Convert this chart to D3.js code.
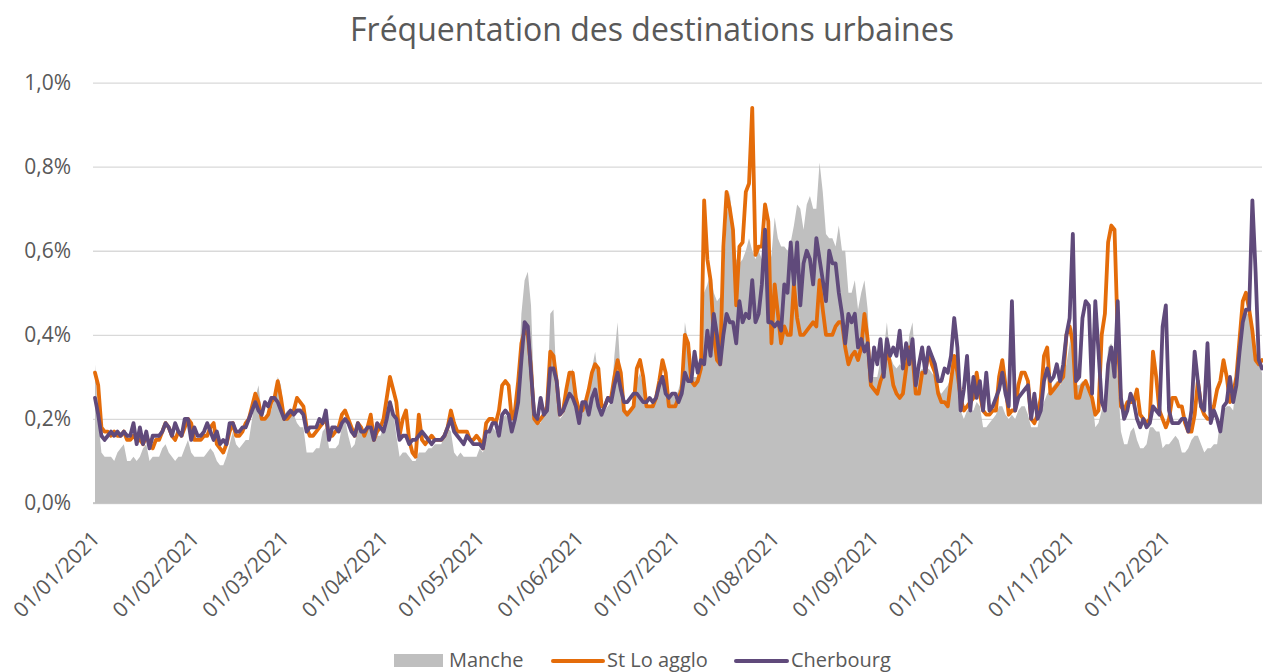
<!DOCTYPE html>
<html><head><meta charset="utf-8">
<script src="https://cdn.jsdelivr.net/npm/d3@7"></script>
<style>body{margin:0;background:#fff}svg{display:block}</style>
</head><body><svg id="c" width="1263" height="672"></svg>
<script>
const chartTitle = "Fréquentation des destinations urbaines";
const seriesNames = ["Manche", "St Lo agglo", "Cherbourg"];
const yTicks = [0, 0.2, 0.4, 0.6, 0.8, 1.0];
const monthLabels = ["01/01/2021","01/02/2021","01/03/2021","01/04/2021","01/05/2021","01/06/2021","01/07/2021","01/08/2021","01/09/2021","01/10/2021","01/11/2021","01/12/2021"];
// daily values, in hundredths of a percent
const manche = [33,20,12,11,11,11,10,12,13,14,
10,10,11,10,11,13,14,10,11,11,
11,13,14,12,11,10,11,11,13,15,
12,11,11,11,11,12,13,12,10,9,
9,11,14,17,14,13,14,15,15,20,
25,28,21,20,21,22,25,30,28,21,
22,22,21,19,18,18,12,12,12,13,
13,17,18,13,13,13,14,18,20,16,
13,14,18,17,16,18,17,16,16,16,
18,22,24,22,16,11,12,12,11,10,
10,12,12,12,13,13,14,14,14,16,
18,17,12,11,12,11,11,11,11,11,
13,12,15,17,18,17,18,20,21,20,
18,21,27,45,53,55,47,25,19,19,
21,23,45,46,27,20,21,24,30,32,
25,20,21,23,26,32,36,30,21,22,
23,24,35,43,30,22,22,22,23,29,
31,28,23,23,24,25,27,29,27,25,
26,25,27,30,43,38,30,30,30,33,
50,52,55,50,48,49,52,68,74,66,
58,57,58,60,63,60,58,60,58,64,
55,59,68,63,61,61,60,62,66,71,
70,65,71,73,70,70,81,74,64,63,
63,61,66,60,60,50,50,53,46,50,
53,46,30,30,30,34,36,43,35,33,
32,33,32,33,40,43,31,31,32,31,
32,31,30,27,26,27,28,30,33,30,
22,20,22,22,22,24,23,18,18,19,
20,21,23,23,21,20,21,20,22,23,
23,21,18,18,18,22,24,26,27,28,
29,28,30,33,38,42,28,28,29,28,
26,25,18,19,22,26,37,38,35,30,
17,14,14,17,18,15,13,13,14,18,
18,17,17,13,14,14,15,16,15,12,
12,13,15,16,16,14,12,13,13,14,
14,20,22,23,23,22,29,34,42,45,
45,41,36,33,31];
const stLo = [31,28,18,17,17,16,17,16,16,17,
15,15,16,15,15,14,16,14,13,15,
15,17,19,18,16,15,17,16,18,20,
19,15,15,15,16,16,18,19,14,13,
12,14,17,19,16,16,17,19,20,23,
26,24,20,20,21,24,25,29,25,20,
20,21,22,25,24,23,18,16,16,17,
18,19,20,16,16,17,18,21,22,20,
18,16,19,18,16,18,21,15,17,18,
20,25,30,27,24,16,20,22,15,12,
11,21,15,14,15,16,15,15,15,16,
18,22,19,17,17,17,17,15,15,16,
15,13,19,20,20,19,22,28,29,28,
20,22,29,38,41,40,32,20,19,20,
21,23,36,35,29,21,22,27,31,31,
25,22,22,24,27,31,33,32,23,23,
25,25,30,34,31,22,21,22,23,32,
34,30,23,23,23,25,29,34,31,23,
23,23,25,27,40,38,29,28,29,32,
72,58,53,40,34,33,61,74,70,65,
47,61,62,74,76,94,59,61,61,71,
67,38,52,45,38,42,40,40,52,44,
40,40,41,42,43,42,53,46,40,40,
40,42,43,43,37,33,35,36,34,37,
45,39,28,27,26,29,31,37,33,28,
26,25,26,32,37,35,26,26,31,31,
36,33,31,26,24,24,23,29,35,31,
25,22,23,24,25,31,26,22,21,21,
22,22,30,34,28,21,22,22,28,31,
31,29,20,19,21,25,35,37,26,27,
28,29,30,40,42,38,25,25,28,29,
27,25,21,22,40,45,62,66,65,40,
23,22,24,24,24,27,21,20,19,20,
36,30,22,20,18,20,25,25,23,23,
19,17,17,21,29,23,21,20,20,23,
27,29,34,30,24,26,30,39,48,50,
46,41,34,33,34];
const cherbourg = [25,21,16,15,16,17,16,17,16,17,
16,16,19,14,18,14,17,13,16,16,
16,17,19,18,16,19,17,16,20,20,
15,18,16,16,17,19,17,15,17,14,
15,14,19,19,17,17,18,18,20,22,
24,22,21,24,23,25,25,24,22,20,
21,22,21,22,22,21,17,18,18,18,
20,19,22,15,18,18,17,19,20,19,
17,16,19,17,17,18,18,15,19,18,
17,20,24,21,20,15,16,16,14,15,
15,16,17,16,15,14,15,15,15,16,
18,20,17,16,15,14,16,15,14,14,
14,13,17,17,19,19,16,21,22,21,
17,20,24,34,43,42,31,21,20,25,
21,22,32,32,29,21,22,24,26,25,
23,19,24,24,21,25,27,23,21,23,
25,24,28,31,27,24,24,25,26,26,
25,24,24,25,24,25,28,30,26,25,
26,26,24,26,31,29,29,36,31,34,
33,41,35,45,40,33,40,45,43,43,
38,48,43,45,44,53,43,45,52,65,
43,43,42,43,41,52,50,62,52,62,
47,57,60,58,52,63,58,53,48,60,
57,57,50,45,38,45,43,45,37,39,
36,38,29,37,33,39,30,39,35,37,
35,41,32,38,33,39,28,33,37,31,
37,35,33,29,29,32,31,35,44,37,
22,27,35,22,30,25,29,22,31,22,
23,25,27,31,26,23,48,22,25,26,
27,28,20,26,20,22,29,32,29,30,
33,29,33,40,44,64,29,30,44,48,
47,26,48,36,24,22,33,37,30,48,
25,20,22,26,24,20,18,20,18,19,
23,22,21,42,47,22,19,19,19,20,
20,17,22,36,29,23,22,38,19,22,
20,17,23,24,30,24,28,36,43,46,
46,72,55,34,32];

const colors = ["#bfbfbf", "#e46c0a", "#604a7b"];
const font = "'Open Sans', sans-serif";
const textColor = "#595959";

const dates = d3.timeDay.range(new Date(2021, 0, 1), new Date(2022, 0, 1));
const toPct = v => v / 100;
const svg = d3.select("#c");

const x = d3.scaleTime().domain([dates[0], dates[dates.length - 1]]).range([95, 1262]);
const y = d3.scaleLinear().domain([0, 1]).range([503, 82.6]);

// title
svg.append("text").attr("x", 652).attr("y", 41).attr("text-anchor", "middle")
  .attr("font-family", font).attr("font-size", 32).attr("fill", textColor).text(chartTitle);

// y grid + labels
const yAxis = svg.append("g").attr("transform", "translate(93,0)")
  .call(d3.axisLeft(y).tickValues(yTicks).tickSize(-(1262 - 93)).tickPadding(22)
    .tickFormat(d => d.toFixed(1).replace(".", ",") + "%"));
yAxis.select(".domain").remove();
yAxis.selectAll(".tick line").attr("stroke", "#d9d9d9").attr("stroke-width", 1.3);
yAxis.selectAll(".tick text").attr("font-family", font).attr("font-size", 21).attr("fill", textColor);

// area Manche
const idx = d3.range(dates.length);
svg.append("path")
  .attr("d", d3.area().x(i => x(dates[i])).y0(y(0)).y1(i => y(toPct(manche[i])))(idx))
  .attr("fill", colors[0]);

// baseline
svg.append("line").attr("x1", 93).attr("x2", 1262).attr("y1", y(0)).attr("y2", y(0))
  .attr("stroke", "#bfbfbf").attr("stroke-width", 1.3);

// lines
[[stLo, colors[1]], [cherbourg, colors[2]]].forEach(([arr, c]) => {
  svg.append("path")
    .attr("d", d3.line().x(i => x(dates[i])).y(i => y(toPct(arr[i])))(idx))
    .attr("fill", "none").attr("stroke", c).attr("stroke-width", 3.8)
    .attr("stroke-linejoin", "round").attr("stroke-linecap", "round");
});

// x labels
const months = d3.timeMonth.range(new Date(2021, 0, 1), new Date(2022, 0, 1));
svg.append("g").selectAll("text").data(months).join("text")
  .attr("transform", d => `translate(${x(d) + 6},${540}) rotate(-45)`)
  .attr("text-anchor", "end")
  .attr("font-family", font).attr("font-size", 21).attr("fill", textColor)
  .text((d, i) => monthLabels[i]);

// legend
const lg = svg.append("g");
lg.append("rect").attr("x", 394).attr("y", 654).attr("width", 49).attr("height", 13).attr("fill", colors[0]);
lg.append("line").attr("x1", 553).attr("x2", 603).attr("y1", 661).attr("y2", 661)
  .attr("stroke", colors[1]).attr("stroke-width", 4).attr("stroke-linecap", "round");
lg.append("line").attr("x1", 736).attr("x2", 787).attr("y1", 661).attr("y2", 661)
  .attr("stroke", colors[2]).attr("stroke-width", 4).attr("stroke-linecap", "round");
[[449, 0], [607, 1], [791, 2]].forEach(([lx, k]) => {
  lg.append("text").attr("x", lx).attr("y", 667).attr("font-family", font).attr("font-size", 20)
    .attr("fill", textColor).text(seriesNames[k]);
});
</script></body></html>
